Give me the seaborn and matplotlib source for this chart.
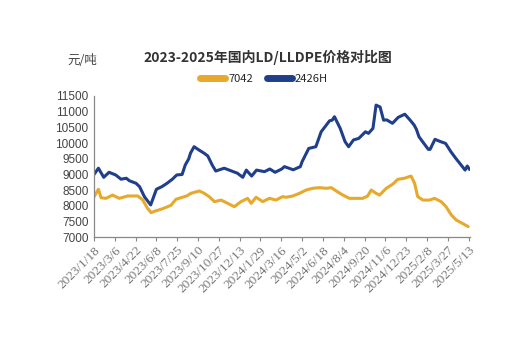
import numpy as np
import pandas as pd
import matplotlib
matplotlib.use("Agg")
import matplotlib.pyplot as plt
from matplotlib.lines import Line2D
import seaborn as sns

# price data (yuan/ton)
dates_2426h = ["2023-01-18", "2023-01-28", "2023-02-09", "2023-02-21", "2023-03-08",
               "2023-03-20", "2023-04-01", "2023-04-08", "2023-04-23", "2023-05-01",
               "2023-05-12", "2023-05-26", "2023-06-08", "2023-06-20", "2023-07-02",
               "2023-07-14", "2023-07-24", "2023-08-05", "2023-08-12", "2023-08-20",
               "2023-08-24", "2023-09-01", "2023-09-12", "2023-09-24", "2023-10-02",
               "2023-10-12", "2023-10-20", "2023-11-08", "2023-11-23", "2023-12-08",
               "2023-12-20", "2023-12-28", "2024-01-09", "2024-01-20", "2024-02-07",
               "2024-02-19", "2024-03-02", "2024-03-17", "2024-03-23", "2024-04-12",
               "2024-04-28", "2024-05-02", "2024-05-17", "2024-06-02", "2024-06-14",
               "2024-07-03", "2024-07-09", "2024-07-14", "2024-07-27", "2024-08-07",
               "2024-08-15", "2024-08-26", "2024-09-07", "2024-09-22", "2024-09-29",
               "2024-10-09", "2024-10-16", "2024-10-25", "2024-11-02", "2024-11-09",
               "2024-11-22", "2024-12-05", "2024-12-20", "2025-01-01", "2025-01-10",
               "2025-01-15", "2025-01-21", "2025-02-11", "2025-02-15", "2025-02-26",
               "2025-03-10", "2025-03-22", "2025-04-03", "2025-04-14", "2025-04-29",
               "2025-05-05", "2025-05-10", "2025-05-15"]
vals_2426h = [9000, 9200, 8910, 9070, 8985, 8850, 8880, 8800, 8720, 8610,
              8290, 8030, 8530, 8610, 8720, 8850, 8985, 9000, 9300, 9500,
              9680, 9885, 9780, 9675, 9590, 9300, 9110, 9200, 9120, 9040,
              8910, 9140, 8950, 9140, 9090, 9175, 9070, 9175, 9250, 9150,
              9250, 9410, 9830, 9885, 10360, 10710, 10730, 10840, 10470, 10045,
              9885, 10100, 10150, 10360, 10310, 10470, 11210, 11150, 10730, 10740,
              10630, 10820, 10920, 10730, 10575, 10440, 10200, 9800, 9800, 10120,
              10050, 9990, 9725, 9515, 9250, 9140, 9270, 9160]

dates_7042 = ["2023-01-18", "2023-01-28", "2023-02-03", "2023-02-14", "2023-03-01",
              "2023-03-16", "2023-04-04", "2023-04-27", "2023-05-08", "2023-05-19",
              "2023-05-27", "2023-06-07", "2023-06-18", "2023-06-30", "2023-07-11",
              "2023-07-22", "2023-08-06", "2023-08-16", "2023-08-25", "2023-09-13",
              "2023-09-24", "2023-10-05", "2023-10-17", "2023-11-01", "2023-11-16",
              "2023-12-01", "2023-12-16", "2023-12-31", "2024-01-08", "2024-01-19",
              "2024-02-03", "2024-02-18", "2024-03-04", "2024-03-19", "2024-03-27",
              "2024-04-11", "2024-04-26", "2024-05-11", "2024-05-26", "2024-06-10",
              "2024-06-25", "2024-07-07", "2024-07-18", "2024-08-02", "2024-08-17",
              "2024-09-16", "2024-09-27", "2024-10-05", "2024-10-16", "2024-10-24",
              "2024-11-08", "2024-11-23", "2024-12-04", "2024-12-19", "2025-01-03",
              "2025-01-11", "2025-01-18", "2025-01-30", "2025-02-14", "2025-02-25",
              "2025-03-12", "2025-03-23", "2025-04-04", "2025-04-15", "2025-04-26",
              "2025-05-12"]
vals_7042 = [8290, 8530, 8260, 8240, 8345, 8240, 8315, 8315, 8190, 7920,
             7785, 7845, 7890, 7955, 8020, 8210, 8275, 8320, 8400, 8475,
             8400, 8295, 8135, 8185, 8080, 7975, 8135, 8240, 8080, 8275,
             8135, 8240, 8185, 8295, 8275, 8315, 8400, 8505, 8560, 8580,
             8560, 8580, 8475, 8345, 8240, 8240, 8315, 8505, 8400, 8345,
             8560, 8695, 8845, 8880, 8950, 8720, 8295, 8185, 8185, 8240,
             8135, 7975, 7710, 7550, 7465, 7340]

tick_dates = ["2023-01-18", "2023-03-06", "2023-04-22", "2023-06-08", "2023-07-25",
              "2023-09-10", "2023-10-27", "2023-12-13", "2024-01-29", "2024-03-16",
              "2024-05-02", "2024-06-18", "2024-08-04", "2024-09-20", "2024-11-06",
              "2024-12-23", "2025-02-08", "2025-03-27", "2025-05-13"]
tick_labels = ["2023/1/18", "2023/3/6", "2023/4/22", "2023/6/8", "2023/7/25",
               "2023/9/10", "2023/10/27", "2023/12/13", "2024/1/29", "2024/3/16",
               "2024/5/2", "2024/6/18", "2024/8/4", "2024/9/20", "2024/11/6",
               "2024/12/23", "2025/2/8", "2025/3/27", "2025/5/13"]

df = pd.concat([
    pd.DataFrame({"date": pd.to_datetime(dates_7042), "price": vals_7042, "grade": "7042"}),
    pd.DataFrame({"date": pd.to_datetime(dates_2426h), "price": vals_2426h, "grade": "2426H"}),
])

colors = {"7042": "#e6a92c", "2426H": "#203f8a"}

sns.set_style("white")
plt.rcParams['font.family'] = ['Noto Sans CJK SC', 'DejaVu Sans']

fig = plt.figure(figsize=(5.15, 3.51), dpi=100)
ax = fig.add_axes([0.1825, 0.324, 0.73, 0.4025])

sns.lineplot(data=df, x="date", y="price", hue="grade", palette=colors,
             linewidth=2.2, ax=ax, legend=False)

ax.set_xlim(pd.Timestamp("2023-01-18"), pd.Timestamp("2025-05-16"))
ax.set_ylim(7000, 11500)
ax.set_yticks(np.arange(7000, 11501, 500))
ax.set_xticks(pd.to_datetime(tick_dates))
ax.set_xticklabels(tick_labels, rotation=45, ha="right", rotation_mode="anchor",
                   fontsize=9.5, color="#777777", family="Liberation Serif")
for lab in ax.get_yticklabels():
    lab.set_family("Liberation Sans")
ax.tick_params(axis="y", labelsize=8.5, colors="#444444", length=0, pad=4)
ax.tick_params(axis="x", length=3, color="#888888", direction="out", bottom=True, pad=2)
ax.set_xlabel("")
ax.set_ylabel("")
for s in ["top", "right"]:
    ax.spines[s].set_visible(False)
for s in ["left", "bottom"]:
    ax.spines[s].set_color("#888888")
    ax.spines[s].set_linewidth(0.9)

fig.text(0.52, 0.835, "2023-2025年国内LD/LLDPE价格对比图", ha="center", va="center",
         fontsize=10, fontweight="bold", color="#333333")
fig.text(0.13, 0.828, "元/吨", ha="left", va="center", fontsize=9, color="#444444")

# legend
handles = [Line2D([0], [0], color=colors["7042"], lw=5),
           Line2D([0], [0], color=colors["2426H"], lw=5)]
fig.legend(handles, ["7042", "2426H"], loc="center", bbox_to_anchor=(0.513, 0.775),
           ncol=2, frameon=False, fontsize=8, handlelength=2.2, columnspacing=1.3,
           handletextpad=0.3)

fig.savefig("out.png", dpi=100)
